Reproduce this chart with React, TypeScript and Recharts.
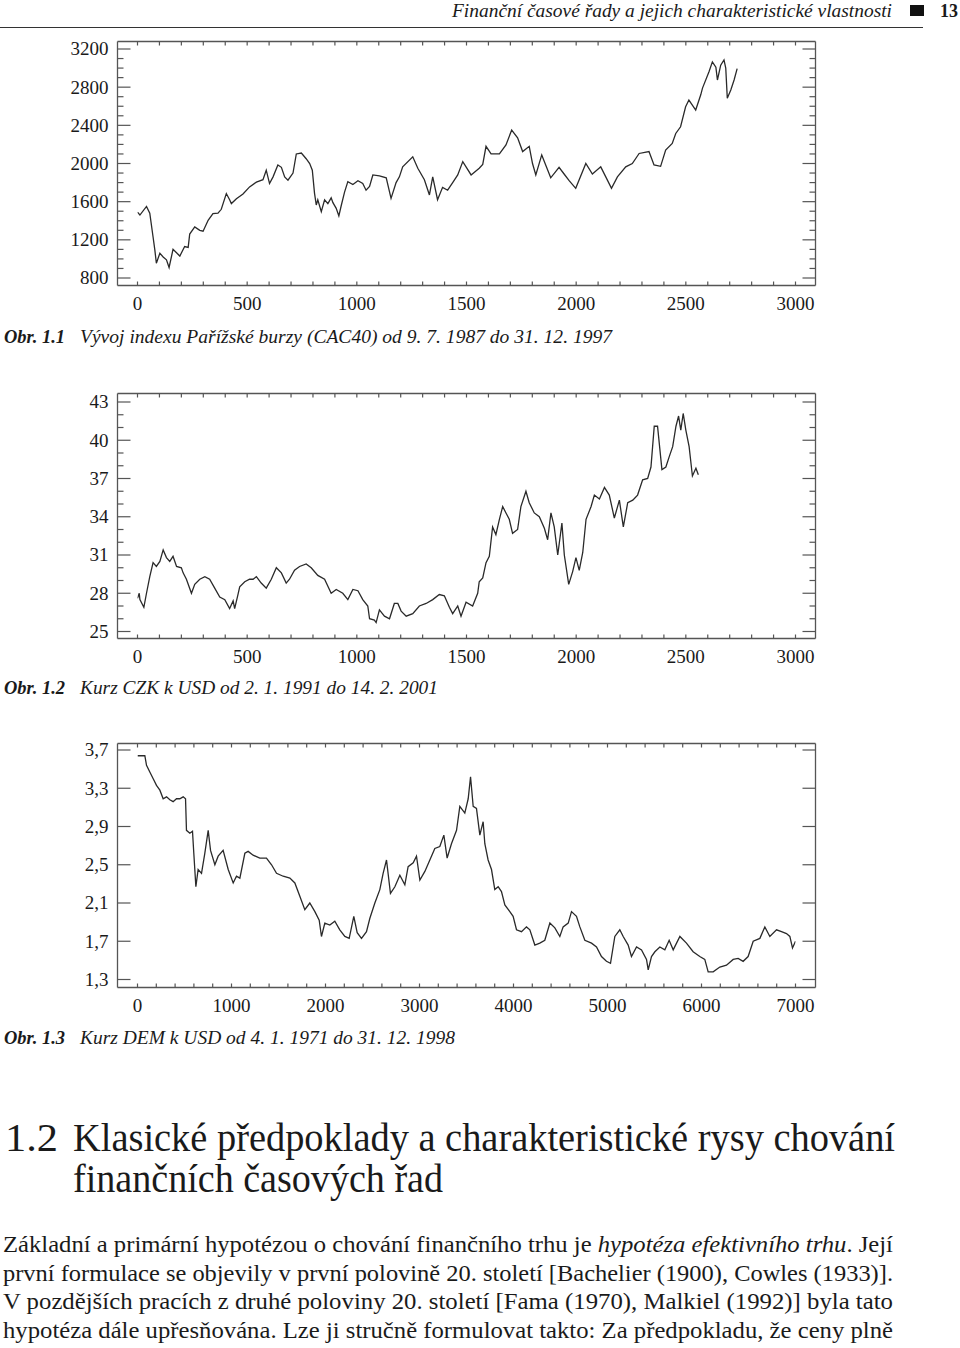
import React from "react";
import { LineChart, Line, XAxis, YAxis } from "recharts";

// Obr. 1.1 – CAC40
const cacDay = [0, 11, 41, 56, 71, 79, 86, 102, 117, 132, 144, 162, 193, 215, 231, 238, 261, 284, 299, 322, 344, 367, 382, 405, 420, 428, 451, 481, 511, 542, 572, 587, 602, 618, 640, 656, 671, 686, 709, 724, 747, 769, 785, 797, 807, 815, 822, 838, 853, 868, 883, 891, 906, 918, 929, 944, 959, 982, 1005, 1027, 1042, 1058, 1073, 1103, 1134, 1156, 1179, 1194, 1209, 1255, 1278, 1308, 1331, 1346, 1368, 1391, 1414, 1437, 1460, 1483, 1521, 1558, 1574, 1589, 1612, 1650, 1680, 1706, 1733, 1756, 1786, 1801, 1816, 1843, 1884, 1922, 1945, 1968, 1998, 2044, 2074, 2112, 2135, 2161, 2188, 2226, 2256, 2287, 2332, 2355, 2385, 2408, 2438, 2454, 2476, 2499, 2514, 2545, 2568, 2576, 2606, 2621, 2637, 2644, 2659, 2674, 2682, 2689, 2705, 2720, 2734];
const cacIndex = [1490, 1460, 1550, 1480, 1230, 1095, 955, 1060, 1020, 990, 910, 1100, 1030, 1130, 1120, 1260, 1335, 1300, 1290, 1405, 1475, 1480, 1520, 1685, 1620, 1580, 1630, 1680, 1755, 1805, 1830, 1930, 1790, 1860, 1985, 1960, 1860, 1825, 1900, 2100, 2110, 2050, 2000, 1930, 1690, 1565, 1620, 1495, 1620, 1580, 1640, 1590, 1530, 1450, 1560, 1700, 1810, 1780, 1820, 1790, 1720, 1760, 1880, 1870, 1850, 1635, 1800, 1860, 1965, 2070, 1950, 1830, 1670, 1860, 1620, 1750, 1720, 1800, 1880, 2020, 1880, 1950, 1990, 2180, 2100, 2100, 2195, 2350, 2270, 2125, 2180, 2000, 1880, 2090, 1850, 1960, 1890, 1820, 1740, 2000, 1890, 1965, 1860, 1740, 1860, 1965, 2000, 2105, 2125, 1985, 1970, 2140, 2210, 2315, 2385, 2595, 2665, 2560, 2720, 2790, 2965, 3065, 3010, 2875, 3030, 3085, 3000, 2685, 2770, 2875, 2995];

// Obr. 1.2 – CZK/USD
const czkDay = [0, 8, 11, 29, 41, 56, 71, 86, 102, 117, 132, 147, 162, 178, 200, 208, 223, 246, 261, 284, 307, 329, 352, 375, 398, 420, 436, 443, 458, 466, 489, 511, 527, 542, 564, 587, 610, 633, 656, 678, 693, 716, 739, 769, 792, 822, 853, 883, 906, 936, 959, 982, 1005, 1027, 1050, 1058, 1080, 1088, 1103, 1126, 1149, 1171, 1187, 1202, 1225, 1255, 1285, 1316, 1346, 1376, 1399, 1422, 1437, 1460, 1475, 1498, 1528, 1551, 1558, 1574, 1589, 1604, 1619, 1634, 1650, 1665, 1680, 1695, 1710, 1733, 1748, 1771, 1786, 1809, 1832, 1855, 1870, 1885, 1900, 1916, 1935, 1946, 1966, 1984, 1999, 2014, 2030, 2045, 2068, 2083, 2106, 2129, 2151, 2174, 2197, 2215, 2235, 2258, 2280, 2303, 2326, 2341, 2356, 2371, 2391, 2409, 2424, 2440, 2455, 2467, 2477, 2488, 2500, 2515, 2530, 2546, 2557];
const czkRate = [27.6, 28.0, 27.5, 26.9, 28.0, 29.3, 30.4, 30.1, 30.5, 31.4, 30.8, 30.5, 30.9, 30.1, 30.0, 29.6, 29.1, 28.0, 28.7, 29.1, 29.3, 29.1, 28.4, 27.7, 27.5, 26.8, 27.4, 26.8, 27.9, 28.5, 28.9, 29.1, 29.1, 29.3, 28.8, 28.4, 29.1, 30.0, 29.6, 28.8, 29.1, 29.8, 30.1, 30.3, 30.0, 29.4, 29.1, 28.0, 28.3, 28.0, 27.5, 28.3, 28.2, 27.5, 27.0, 26.0, 25.9, 25.7, 26.7, 26.2, 26.0, 27.2, 27.2, 26.6, 26.2, 26.4, 27.0, 27.2, 27.5, 27.9, 27.8, 26.9, 26.4, 27.0, 26.2, 27.3, 27.0, 28.0, 28.9, 29.2, 30.4, 30.9, 33.2, 32.6, 33.8, 34.8, 34.3, 33.8, 32.7, 33.0, 34.8, 36.0, 35.1, 34.3, 34.0, 33.1, 32.2, 34.3, 33.2, 31.0, 33.5, 31.0, 28.7, 29.7, 30.8, 29.8, 31.2, 33.8, 34.8, 35.7, 35.4, 36.3, 35.7, 33.9, 35.3, 33.2, 35.1, 35.3, 35.7, 36.9, 37.0, 37.9, 41.1, 41.1, 37.7, 37.9, 38.7, 39.5, 41.1, 41.9, 40.8, 42.1, 40.8, 39.5, 37.2, 37.8, 37.3];

// Obr. 1.3 – DEM/USD
const demDay = [0, 78, 96, 131, 167, 202, 238, 273, 309, 344, 379, 415, 450, 486, 511, 521, 557, 585, 599, 621, 645, 681, 716, 752, 777, 823, 858, 911, 965, 1018, 1053, 1089, 1142, 1177, 1230, 1301, 1372, 1426, 1479, 1550, 1621, 1674, 1727, 1780, 1833, 1887, 1933, 1957, 1993, 2046, 2099, 2152, 2206, 2252, 2301, 2337, 2383, 2436, 2472, 2525, 2578, 2613, 2649, 2691, 2738, 2791, 2844, 2879, 2933, 2968, 3004, 3057, 3110, 3163, 3216, 3259, 3294, 3340, 3394, 3429, 3482, 3518, 3543, 3571, 3606, 3642, 3677, 3695, 3730, 3766, 3801, 3837, 3872, 3908, 3961, 3996, 4032, 4085, 4138, 4174, 4227, 4280, 4333, 4387, 4440, 4493, 4528, 4582, 4617, 4670, 4706, 4759, 4830, 4883, 4936, 4989, 5032, 5078, 5131, 5167, 5220, 5255, 5309, 5362, 5415, 5433, 5468, 5504, 5557, 5610, 5656, 5699, 5770, 5840, 5911, 5982, 6035, 6071, 6124, 6195, 6266, 6337, 6390, 6443, 6496, 6550, 6621, 6674, 6727, 6798, 6851, 6904, 6940, 6968, 7000];
const demRate = [3.64, 3.64, 3.54, 3.47, 3.40, 3.33, 3.28, 3.19, 3.21, 3.18, 3.16, 3.19, 3.19, 3.21, 3.19, 2.86, 2.83, 2.85, 2.62, 2.27, 2.45, 2.41, 2.62, 2.86, 2.65, 2.50, 2.59, 2.65, 2.45, 2.31, 2.38, 2.36, 2.62, 2.64, 2.60, 2.57, 2.57, 2.50, 2.41, 2.38, 2.36, 2.31, 2.17, 2.03, 2.10, 2.01, 1.92, 1.75, 1.89, 1.87, 1.91, 1.82, 1.75, 1.73, 1.96, 1.79, 1.73, 1.80, 1.94, 2.10, 2.24, 2.41, 2.55, 2.20, 2.27, 2.39, 2.29, 2.48, 2.52, 2.59, 2.34, 2.43, 2.55, 2.67, 2.69, 2.81, 2.57, 2.72, 2.86, 3.11, 3.04, 3.19, 3.42, 3.11, 3.09, 2.81, 2.95, 2.72, 2.55, 2.45, 2.24, 2.27, 2.22, 2.08, 2.01, 1.96, 1.82, 1.80, 1.85, 1.82, 1.66, 1.68, 1.71, 1.89, 1.84, 1.75, 1.85, 1.89, 2.01, 1.96, 1.85, 1.71, 1.68, 1.64, 1.54, 1.49, 1.47, 1.75, 1.82, 1.75, 1.66, 1.54, 1.64, 1.61, 1.51, 1.40, 1.54, 1.59, 1.64, 1.61, 1.71, 1.61, 1.75, 1.68, 1.59, 1.54, 1.51, 1.38, 1.38, 1.43, 1.45, 1.51, 1.52, 1.49, 1.54, 1.70, 1.73, 1.85, 1.75, 1.82, 1.80, 1.78, 1.75, 1.63, 1.70];

// tick labels
const cacXTicks = [0, 500, 1000, 1500, 2000, 2500, 3000];
const cacYTicks = [800, 1200, 1600, 2000, 2400, 2800, 3200];
const czkXTicks = [0, 500, 1000, 1500, 2000, 2500, 3000];
const czkYTicks = [25, 28, 31, 34, 37, 40, 43];
const demXTicks = [0, 1000, 2000, 3000, 4000, 5000, 6000, 7000];
const demYTicks = [1.3, 1.7, 2.1, 2.5, 2.9, 3.3, 3.7];

const serif = "'Liberation Serif', 'DejaVu Serif', serif";
const ink = "#1a1a1a";
const frame = "#555";
const lineColor = "#2a2a2a";

function zip(xs: number[], ys: number[]) {
  return xs.map((d, i) => ({ day: d, value: ys[i] }));
}

function withMinor(major: number[], parts: number) {
  const out: number[] = [];
  for (let i = 0; i < major.length - 1; i++) {
    const step = (major[i + 1] - major[i]) / parts;
    for (let k = 0; k < parts; k++) out.push(major[i] + k * step);
  }
  out.push(major[major.length - 1]);
  return out;
}

type PanelProps = {
  top: number;
  height: number;
  plotTop: number;
  plotBottom: number;
  data: { day: number; value: number }[];
  xMajor: number[];
  xParts: number;
  yMajor: number[];
  yParts: number;
  yPad: { top: number; bottom: number };
  fmt?: (v: number) => string;
};

// axes get a 1px box (a zero-sized axis is not drawn), margins compensate for it
function Panel({ top, height, plotTop, plotBottom, data, xMajor, xParts, yMajor, yParts, yPad, fmt = (v) => String(v) }: PanelProps) {
  const xAll = withMinor(xMajor, xParts);
  const yAll = withMinor(yMajor, yParts);
  const xDomain = [xMajor[0], xMajor[xMajor.length - 1]];
  const yDomain = [yMajor[0], yMajor[yMajor.length - 1]];
  const axisLine = { stroke: frame, strokeWidth: 1.3 };

  const leftTick = (p: any) => {
    const major = yMajor.includes(p.payload.value);
    return (
      <g>
        <line x1={p.x} x2={p.x + (major ? 13 : 6)} y1={p.y} y2={p.y} stroke={frame} strokeWidth={1.2} />
        {major && (
          <text x={p.x - 9} y={p.y} dy="0.34em" textAnchor="end" fontFamily={serif} fontSize={19} fill={ink}>
            {fmt(p.payload.value)}
          </text>
        )}
      </g>
    );
  };
  const rightTick = (p: any) => {
    const major = yMajor.includes(p.payload.value);
    return <line x1={p.x} x2={p.x - (major ? 13 : 6)} y1={p.y} y2={p.y} stroke={frame} strokeWidth={1.2} />;
  };
  const bottomTick = (p: any) => {
    const major = xMajor.includes(p.payload.value);
    return (
      <g>
        <line x1={p.x} x2={p.x} y1={p.y} y2={p.y - 4} stroke={frame} strokeWidth={1.2} />
        {major && (
          <text x={p.x} y={p.y + 24} textAnchor="middle" fontFamily={serif} fontSize={19} fill={ink}>
            {p.payload.value}
          </text>
        )}
      </g>
    );
  };
  const topTick = (p: any) => <line x1={p.x} x2={p.x} y1={p.y} y2={p.y + 4} stroke={frame} strokeWidth={1.2} />;

  return (
    <div style={{ position: "absolute", left: 0, top }}>
      <LineChart
        width={960}
        height={height}
        data={data}
        margin={{ top: plotTop - top - 1, bottom: top + height - plotBottom - 1, left: 116.5, right: 143.5 }}
      >
        <XAxis dataKey="day" type="number" domain={xDomain} allowDataOverflow ticks={xAll} interval={0}
          padding={{ left: 20, right: 20 }} height={1} tickSize={0} tickMargin={0} tickLine={false}
          axisLine={axisLine} tick={bottomTick} />
        <XAxis xAxisId="top" orientation="top" dataKey="day" type="number" domain={xDomain} allowDataOverflow
          ticks={xAll} interval={0} padding={{ left: 20, right: 20 }} height={1} tickSize={0} tickMargin={0}
          tickLine={false} axisLine={axisLine} tick={topTick} />
        <YAxis type="number" domain={yDomain} allowDataOverflow ticks={yAll} interval={0} padding={yPad}
          width={1} tickSize={0} tickMargin={0} tickLine={false} axisLine={axisLine} tick={leftTick} />
        <YAxis yAxisId="right" orientation="right" type="number" domain={yDomain} allowDataOverflow ticks={yAll}
          interval={0} padding={yPad} width={1} tickSize={0} tickMargin={0} tickLine={false} axisLine={axisLine}
          tick={rightTick} />
        <Line type="linear" dataKey="value" stroke={lineColor} strokeWidth={1.3} dot={false} isAnimationActive={false} />
      </LineChart>
    </div>
  );
}

function PageText() {
  const t = { fontFamily: serif, fill: ink };
  return (
    <svg width={960} height={1348} style={{ position: "absolute", left: 0, top: 0 }}>
      <text x={452} y={17} fontSize={19} fontStyle="italic" textLength={440} lengthAdjust="spacingAndGlyphs" {...t}>
        Finanční časové řady a jejich charakteristické vlastnosti
      </text>
      <rect x={910} y={5} width={14} height={11} fill="#111" />
      <text x={940} y={17} fontSize={19} fontWeight="bold" textLength={18} lengthAdjust="spacingAndGlyphs" {...t}>13</text>
      <line x1={0} x2={923} y1={27.5} y2={27.5} stroke="#333" strokeWidth={1.2} />

      <text x={4} y={343} fontSize={18} fontStyle="italic" fontWeight="bold" textLength={61} lengthAdjust="spacingAndGlyphs" {...t}>Obr. 1.1</text>
      <text x={80} y={343} fontSize={18} fontStyle="italic" textLength={532} lengthAdjust="spacingAndGlyphs" {...t}>
        Vývoj indexu Pařížské burzy (CAC40) od 9. 7. 1987 do 31. 12. 1997
      </text>
      <text x={4} y={694} fontSize={18} fontStyle="italic" fontWeight="bold" textLength={61} lengthAdjust="spacingAndGlyphs" {...t}>Obr. 1.2</text>
      <text x={80} y={694} fontSize={18} fontStyle="italic" textLength={358} lengthAdjust="spacingAndGlyphs" {...t}>
        Kurz CZK k USD od 2. 1. 1991 do 14. 2. 2001
      </text>
      <text x={4} y={1044} fontSize={18} fontStyle="italic" fontWeight="bold" textLength={61} lengthAdjust="spacingAndGlyphs" {...t}>Obr. 1.3</text>
      <text x={80} y={1044} fontSize={18} fontStyle="italic" textLength={375} lengthAdjust="spacingAndGlyphs" {...t}>
        Kurz DEM k USD od 4. 1. 1971 do 31. 12. 1998
      </text>

      <text x={5} y={1151} fontSize={40} textLength={53} lengthAdjust="spacingAndGlyphs" {...t}>1.2</text>
      <text x={73} y={1151} fontSize={40} textLength={822} lengthAdjust="spacingAndGlyphs" {...t}>
        Klasické předpoklady a charakteristické rysy chování
      </text>
      <text x={73} y={1192} fontSize={40} textLength={370} lengthAdjust="spacingAndGlyphs" {...t}>
        finančních časových řad
      </text>

      <text x={3} y={1252} fontSize={23} textLength={890} lengthAdjust="spacingAndGlyphs" {...t}>
        {"Základní a primární hypotézou o chování finančního trhu je "}
        <tspan fontStyle="italic">{"hypotéza efektivního trhu"}</tspan>
        {". Její"}
      </text>
      <text x={3} y={1281} fontSize={23} textLength={890} lengthAdjust="spacingAndGlyphs" {...t}>
        první formulace se objevily v první polovině 20. století [Bachelier (1900), Cowles (1933)].
      </text>
      <text x={3} y={1309} fontSize={23} textLength={890} lengthAdjust="spacingAndGlyphs" {...t}>
        V pozdějších pracích z druhé poloviny 20. století [Fama (1970), Malkiel (1992)] byla tato
      </text>
      <text x={3} y={1338} fontSize={23} textLength={890} lengthAdjust="spacingAndGlyphs" {...t}>
        hypotéza dále upřesňována. Lze ji stručně formulovat takto: Za předpokladu, že ceny plně
      </text>
    </svg>
  );
}

export default function App() {
  const comma = (v: number) => v.toFixed(1).replace(".", ",");
  return (
    <div style={{ position: "absolute", left: 0, top: 0, width: 960, height: 1348, background: "#fff", overflow: "hidden" }}>
      <PageText />
      <Panel top={0} height={330} plotTop={41.5} plotBottom={285.5} data={zip(cacDay, cacIndex)}
        xMajor={cacXTicks} xParts={5} yMajor={cacYTicks} yParts={4} yPad={{ top: 7.5, bottom: 7.5 }} />
      <Panel top={350} height={330} plotTop={393.5} plotBottom={638.5} data={zip(czkDay, czkRate)}
        xMajor={czkXTicks} xParts={5} yMajor={czkYTicks} yParts={3} yPad={{ top: 8.5, bottom: 7 }} />
      <Panel top={700} height={330} plotTop={743.5} plotBottom={987.5} data={zip(demDay, demRate)}
        xMajor={demXTicks} xParts={5} yMajor={demYTicks} yParts={1} yPad={{ top: 6.5, bottom: 8 }} fmt={comma} />
    </div>
  );
}
